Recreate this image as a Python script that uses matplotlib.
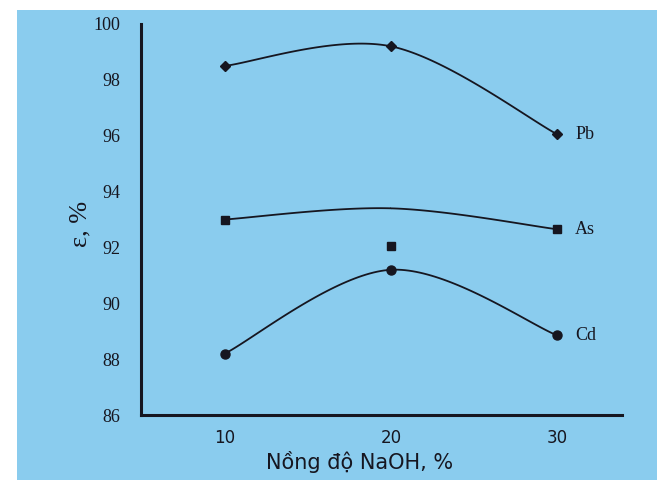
import numpy as np
import matplotlib
matplotlib.use('Agg')
import matplotlib.pyplot as plt
from matplotlib.patches import Rectangle

# data
naoh = [10, 20, 30]
pb = [98.5, 99.2, 96.05]
as_curve = [93.0, 93.4, 92.65]   # smoothed As line (no marker at 20)
as_marked_x = [10, 30]
as_marked = [93.0, 92.65]
as_extra_x = [20]
as_extra = [92.05]               # stray As point below the line
cd = [88.2, 91.2, 88.85]

x_ticks = [10, 20, 30]
y_ticks = [86, 88, 90, 92, 94, 96, 98, 100]

BG = '#8accee'
INK = '#161620'


def smooth(x, y, n=50):
    # catmull-rom through the points, similar to a "smoothed line" in a spreadsheet
    pts = np.column_stack([x, y]).astype(float)
    p = np.vstack([pts[0], pts, pts[-1]])
    t = np.linspace(0, 1, n)[:, None]
    segs = []
    for i in range(1, len(p) - 2):
        p0, p1, p2, p3 = p[i - 1], p[i], p[i + 1], p[i + 2]
        seg = 0.5 * (2 * p1 + (-p0 + p2) * t
                     + (2 * p0 - 5 * p1 + 4 * p2 - p3) * t ** 2
                     + (-p0 + 3 * p1 - 3 * p2 + p3) * t ** 3)
        segs.append(seg)
    c = np.vstack(segs)
    return c[:, 0], c[:, 1]


fig = plt.figure(figsize=(6.57, 4.8), dpi=100)
fig.patch.set_facecolor('white')
fig.patches.append(Rectangle((17 / 657, 0), 1, 1 - 10 / 480, transform=fig.transFigure,
                             facecolor=BG, edgecolor='none', zorder=-1))

ax = fig.add_axes([141 / 657, 1 - 415 / 480, (622 - 141) / 657, (415 - 24) / 480])
ax.set_facecolor('none')

for ys, mk, ms in [(pb, 'D', 5.5), (cd, 'o', 6.5)]:
    sx, sy = smooth(naoh, ys)
    ax.plot(sx, sy, color=INK, lw=1.3)
    ax.plot(naoh, ys, ls='none', marker=mk, ms=ms, color=INK)

sx, sy = smooth(naoh, as_curve)
ax.plot(sx, sy, color=INK, lw=1.3)
ax.plot(as_marked_x, as_marked, ls='none', marker='s', ms=6, color=INK)
ax.plot(as_extra_x, as_extra, ls='none', marker='s', ms=6, color=INK)

for name, yv in [('Pb', pb[-1]), ('As', as_marked[-1]), ('Cd', cd[-1])]:
    ax.annotate(name, (naoh[-1], yv), xytext=(13, 0), textcoords='offset points',
                va='center', ha='left', fontsize=13, family='Liberation Serif', color=INK)

ax.set_xlim(4.95, 33.9)
ax.set_ylim(86, 100)
ax.set_xticks(x_ticks)
ax.set_yticks(y_ticks)
ax.set_xticklabels([str(v) for v in x_ticks], fontsize=12, family='DejaVu Sans', color=INK)
ax.set_yticklabels([str(v) for v in y_ticks], fontsize=13, family='Liberation Serif', color=INK)
ax.tick_params(axis='x', length=0, pad=10)
ax.tick_params(axis='y', length=0, pad=15)

for s in ['top', 'right']:
    ax.spines[s].set_visible(False)
for s in ['left', 'bottom']:
    ax.spines[s].set_linewidth(2.2)
    ax.spines[s].set_color(INK)

fig.text(360 / 657, 1 - 462 / 480, 'Nồng độ NaOH, %', ha='center', va='center',
         fontsize=15, family='DejaVu Sans', color=INK)
fig.text(80 / 657, 1 - 224 / 480, 'ε, %', ha='center', va='center', rotation=90,
         fontsize=19, family='Liberation Serif', color=INK)

fig.savefig('out.png', dpi=100)
